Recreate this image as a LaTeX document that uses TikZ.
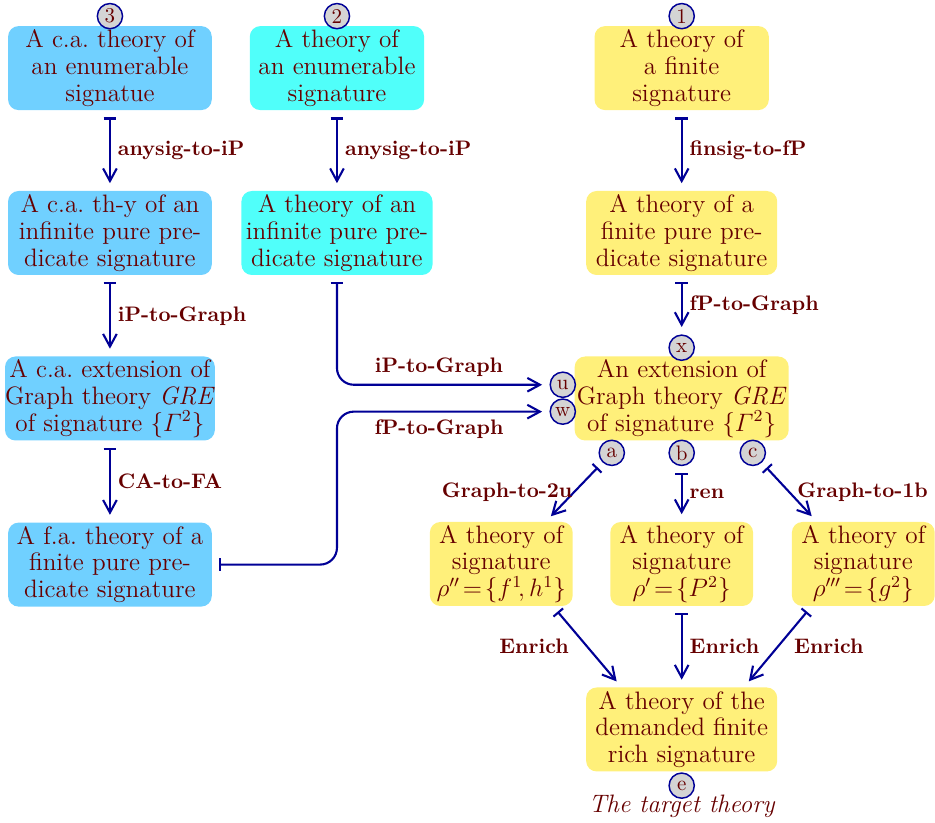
\documentclass[tikz,border=0pt]{standalone}
\usepackage{amsmath}
\usepackage{xcolor}
\usepackage{tikz}
\usetikzlibrary{arrows.meta}

\definecolor{txtred}{RGB}{102,0,0}
\definecolor{arrblue}{RGB}{0,0,150}
\definecolor{boxblue}{RGB}{112,208,255}
\definecolor{boxcyan}{RGB}{80,255,250}
\definecolor{boxyellow}{RGB}{255,240,122}
\definecolor{spotgray}{RGB}{212,212,212}

\tikzset{
  thy/.style={rounded corners=5pt, text=txtred, align=center,
    font=\fontsize{12}{12.7}\selectfont, minimum height=40pt,
    inner xsep=0pt, inner ysep=1pt},
  cathy/.style={thy, fill=boxblue, minimum width=97pt},
  enthy/.style={thy, fill=boxcyan},
  fithy/.style={thy, fill=boxyellow},
  spot/.style={circle, draw=arrblue, line width=.7pt, fill=spotgray,
    text=txtred, inner sep=0pt, minimum size=12pt},
  trans/.style={draw=arrblue, line width=1pt,
    {Bar[width=6pt]}-{Straight Barb[length=6pt,width=6.5pt]},
    shorten <=3.3pt, shorten >=3.5pt},
  lbl/.style={text=txtred, font=\bfseries},
}

\begin{document}
\begin{tikzpicture}
    \useasboundingbox (0,0) rectangle (15.65,13.77);

    % first row
    \node[cathy] (caenum) at (1.84,12.63) {A c.a.\ theory of\\an enumerable\\signatue};
    \node[enthy, minimum width=83pt] (enum) at (5.64,12.63) {A theory of\\an enumerable\\signature};
    \node[fithy, minimum width=83pt] (fin) at (11.41,12.63) {A theory of\\a finite\\signature};
    \node[spot] (s3) at (1.84,13.50) {3};
    \node[spot] (s2) at (5.64,13.50) {2};
    \node[spot] (s1) at (11.41,13.50) {1};

    % second row
    \node[cathy] (cainf) at (1.84,9.87) {A c.a.\ th-y of an\\infinite pure pre-\\dicate signature};
    \node[enthy, minimum width=91pt] (inf) at (5.64,9.87) {A theory of an\\infinite pure pre-\\dicate signature};
    \node[fithy, minimum width=91pt] (finpred) at (11.41,9.87) {A theory of a\\finite pure pre-\\dicate signature};

    % graph theory
    \node[cathy] (caext) at (1.84,7.10) {A c.a.\ extension of\\Graph theory \textit{GRE}\\of signature $\{\varGamma^2\}$};
    \node[fithy, inner xsep=1pt] (ext) at (11.41,7.10) {An extension of\\Graph theory \textit{GRE}\\of signature $\{\varGamma^2\}$};
    \node[spot] (sx) at (11.41,7.95) {x};
    \node[spot] (su) at (9.42,7.33) {u};
    \node[spot] (sw) at (9.42,6.88) {w};
    \node[spot] (sa) at (10.24,6.19) {a};
    \node[spot] (sb) at (11.41,6.19) {b};
    \node[spot] (sc) at (12.60,6.19) {c};

    % fourth row
    \node[cathy] (fafin) at (1.84,4.32) {A f.a.\ theory of a\\finite pure pre-\\dicate signature};
    \node[fithy, minimum width=68pt] (rho2) at (8.39,4.33) {A theory of\\signature\\$\rho''\!=\!\{f^1\!,h^1\}$};
    \node[fithy, minimum width=68pt] (rho1) at (11.41,4.33) {A theory of\\signature\\$\rho'\!=\!\{P^2\}$};
    \node[fithy, minimum width=68pt] (rho3) at (14.45,4.33) {A theory of\\signature\\$\rho'''\!=\!\{g^2\}$};

    % target
    \node[fithy, minimum width=91pt] (target) at (11.41,1.56) {A theory of the\\demanded finite\\rich signature};
    \node[spot] (se) at (11.41,0.62) {e};
    \node[text=txtred, font=\fontsize{12}{14}\selectfont\itshape] (tgt) at (11.41,0.28) {The target theory};

    % translations
    \draw[trans] (caenum) -- node[lbl,right] {anysig-to-iP} (cainf);
    \draw[trans] (enum) -- node[lbl,right] {anysig-to-iP} (inf);
    \draw[trans] (fin) -- node[lbl,right] {finsig-to-fP} (finpred);
    \draw[trans] (cainf) -- node[lbl,right] {iP-to-Graph} (caext);
    \draw[trans] (finpred) -- node[lbl,right] {fP-to-Graph} (sx);
    \draw[trans] (caext) -- node[lbl,right] {CA-to-FA} (fafin);
    \draw[trans, rounded corners=8pt] (inf) |- node[lbl,above,pos=.74] {iP-to-Graph} (su);
    \draw[trans, rounded corners=8pt] (fafin) -- (fafin -| inf.south) |- node[lbl,below,pos=.74] {fP-to-Graph} (sw);
    \draw[trans] (sa) -- node[lbl,left,xshift=3pt] {Graph-to-2u} ([xshift=-13pt]rho2.north east);
    \draw[trans] (sb) -- node[lbl,right] {ren} (rho1);
    \draw[trans] (sc) -- node[lbl,right] {Graph-to-1b} ([xshift=12pt]rho3.north west);
    \draw[trans] ([xshift=-9.5pt]rho2.south east) -- node[lbl,left,xshift=-5pt] {Enrich} ([xshift=17pt]target.north west);
    \draw[trans] (rho1) -- node[lbl,right] {Enrich} (target);
    \draw[trans] ([xshift=9.5pt]rho3.south west) -- node[lbl,right,xshift=4pt] {Enrich} ([xshift=-16pt]target.north east);
\end{tikzpicture}
\end{document}
